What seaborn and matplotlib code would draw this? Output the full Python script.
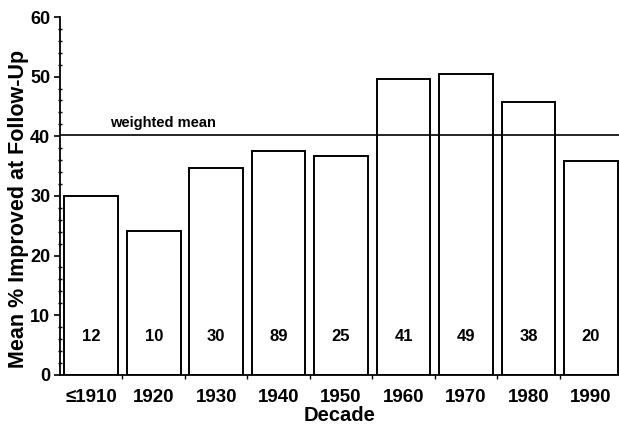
import matplotlib.pyplot as plt
import seaborn as sns
from matplotlib.ticker import MultipleLocator

decades = ["≤1910", "1920", "1930", "1940", "1950", "1960", "1970", "1980", "1990"]
mean_improved = [30.0, 24.1, 34.7, 37.6, 36.7, 49.6, 50.4, 45.7, 35.8]
n_studies = [12, 10, 30, 89, 25, 41, 49, 38, 20]
weighted_mean = 40.2

sns.set_style("ticks", {"axes.edgecolor": "black", "text.color": "black",
                        "axes.labelcolor": "black", "xtick.color": "black",
                        "ytick.color": "black"})
plt.rcParams["font.family"] = ["Liberation Sans", "DejaVu Sans"]
plt.rcParams["font.weight"] = "bold"

fig = plt.figure(figsize=(6.19, 4.25), dpi=100)
ax = fig.add_axes([0.097, 0.118, 0.903, 0.842])

sns.barplot(x=decades, y=mean_improved, color="white", edgecolor="black",
            linewidth=1.4, width=0.86, saturation=1, ax=ax)

# number of studies in each decade
for i, n in enumerate(n_studies):
    ax.text(i, 6.4, str(n), ha="center", va="center", fontsize=12, fontweight="bold")

ax.axhline(weighted_mean, color="black", linewidth=1.2, zorder=5)
ax.text(0.3, weighted_mean + 0.9, "weighted mean", ha="left", va="bottom",
        fontsize=10.5, fontweight="bold")

ax.set_ylim(0, 60)
ax.set_xlim(-0.5, 8.45)
ax.yaxis.set_major_locator(MultipleLocator(10))
ax.yaxis.set_minor_locator(MultipleLocator(2))
ax.tick_params(axis="y", which="major", direction="out", length=4, width=1.2, labelsize=13, pad=3)
ax.tick_params(axis="y", which="minor", direction="inout", length=3, width=1)
ax.tick_params(axis="x", which="major", length=0, labelsize=13.5, pad=10)
ax.set_xticks([i + 0.5 for i in range(8)], minor=True)
ax.tick_params(axis="x", which="minor", direction="out", length=3, width=1)

for lab in ax.get_xticklabels() + ax.get_yticklabels():
    lab.set_fontweight("bold")

ax.set_ylabel("Mean % Improved at Follow-Up", fontsize=15.5, fontweight="bold")
ax.yaxis.set_label_coords(-0.056, 0.464)
ax.set_xlabel("Decade", fontsize=14.5, fontweight="bold", labelpad=0)

for side in ["top", "right"]:
    ax.spines[side].set_visible(False)
ax.spines["left"].set_linewidth(1.3)
ax.spines["bottom"].set_linewidth(1.3)

fig.savefig("out.png", dpi=100)
